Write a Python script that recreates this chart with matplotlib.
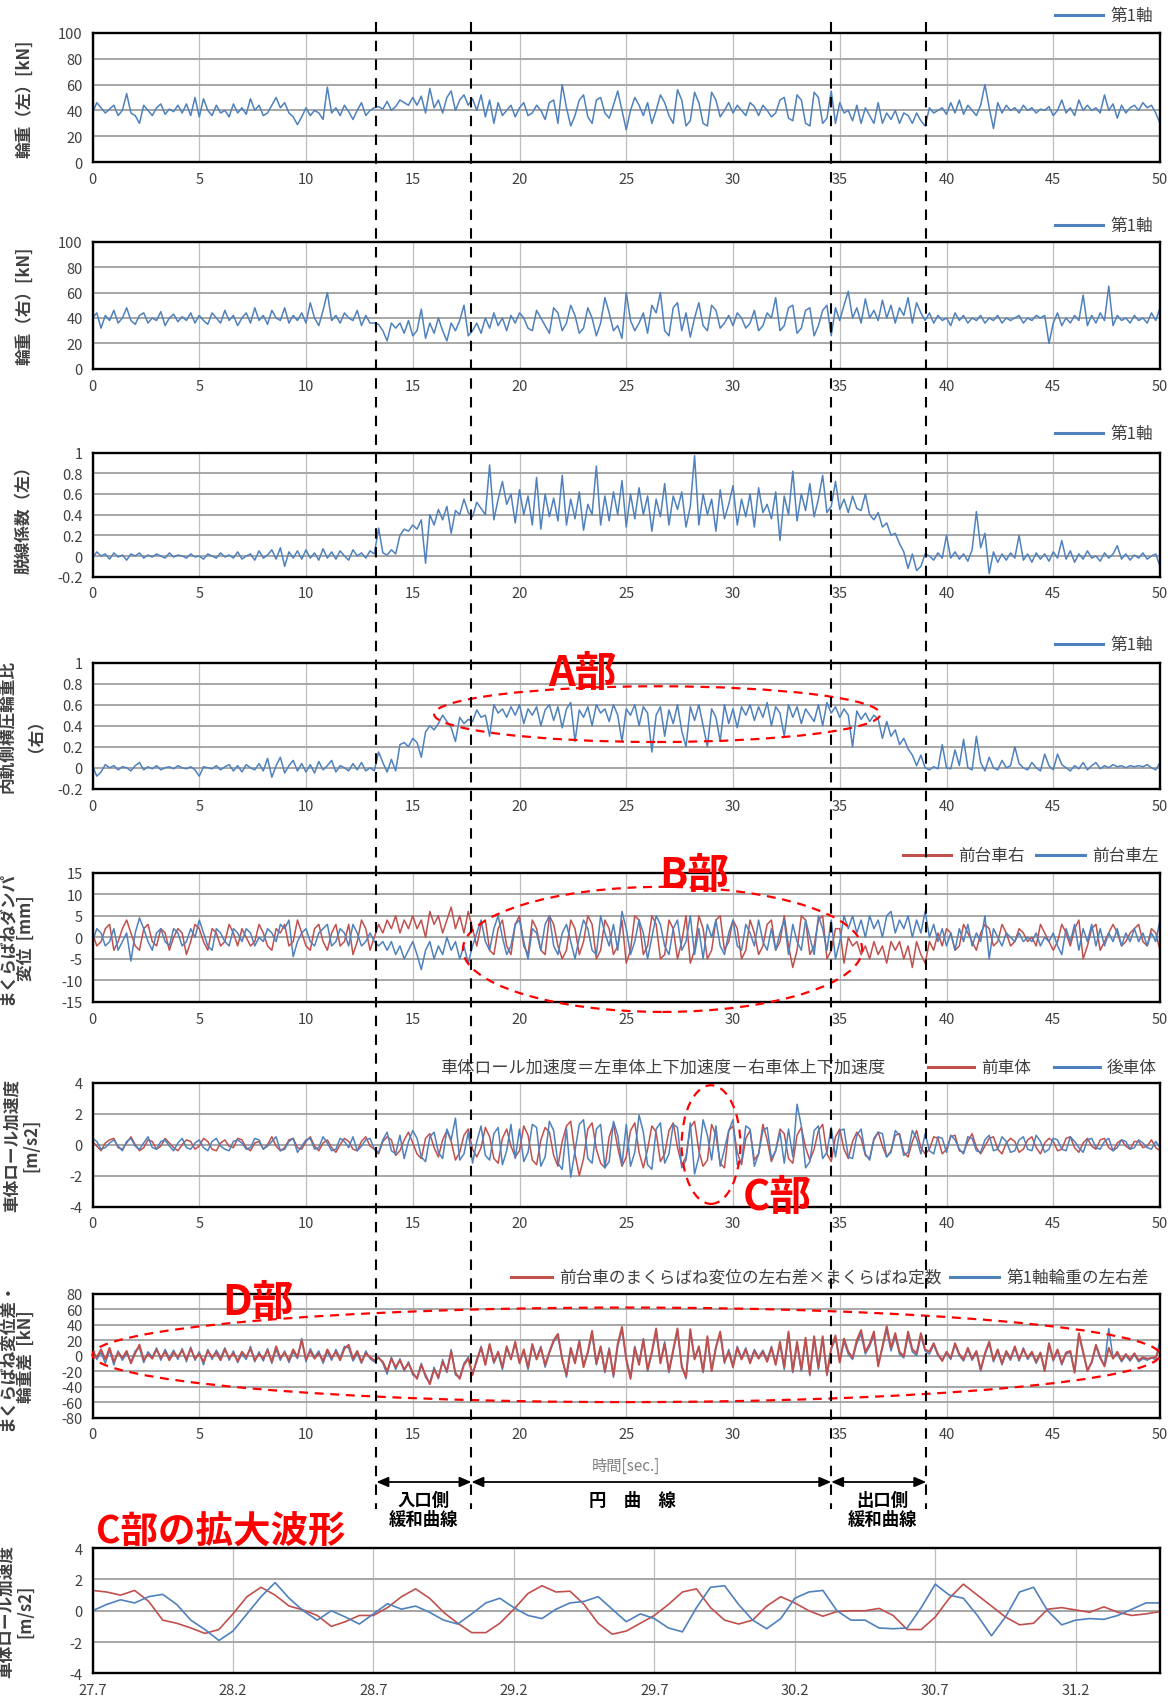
import numpy as np
import matplotlib
matplotlib.use("Agg")
import matplotlib.pyplot as plt
from matplotlib.lines import Line2D
from matplotlib.patches import Ellipse, FancyArrowPatch
from matplotlib.transforms import blended_transform_factory
from matplotlib.ticker import FuncFormatter

plt.rcParams['font.family'] = ['Noto Sans CJK JP', 'DejaVu Sans']
plt.rcParams['axes.unicode_minus'] = False

# =============================================================================
# DATA (0.2 s steps from 0 to 50 s)
# =============================================================================

# 輪重（左）[kN]
wheel_load_left = [
    38, 46, 42, 38, 41, 44, 36, 40, 53, 38, 36, 30, 44, 40, 36, 42, 45, 37, 41, 39, 44, 38, 45, 36, 50,
    35, 49, 40, 36, 44, 38, 40, 35, 45, 38, 42, 37, 49, 40, 44, 36, 38, 44, 50, 42, 46, 38, 35, 29, 35,
    42, 36, 40, 38, 33, 58, 38, 42, 36, 44, 39, 33, 40, 46, 36, 40, 42, 43, 41, 47, 40, 43, 48, 46, 44,
    50, 44, 51, 38, 57, 42, 48, 38, 50, 55, 40, 48, 52, 44, 49, 40, 52, 35, 48, 30, 46, 36, 40, 44, 35,
    42, 46, 36, 38, 44, 40, 33, 46, 48, 30, 60, 42, 28, 36, 48, 52, 35, 30, 48, 50, 38, 34, 44, 55, 40,
    25, 40, 50, 44, 36, 46, 30, 40, 52, 46, 36, 30, 56, 48, 28, 32, 54, 46, 30, 28, 54, 48, 35, 40, 46,
    38, 44, 40, 36, 46, 43, 36, 44, 40, 35, 38, 48, 50, 34, 32, 52, 48, 30, 28, 54, 50, 30, 34, 55, 30,
    46, 38, 40, 32, 44, 30, 42, 36, 30, 46, 30, 38, 33, 40, 30, 38, 36, 30, 38, 32, 28, 42, 38, 40, 42,
    37, 46, 38, 48, 37, 44, 40, 36, 44, 60, 42, 26, 46, 38, 44, 40, 42, 38, 44, 40, 42, 38, 41, 40, 43,
    36, 40, 48, 38, 42, 36, 48, 40, 44, 40, 42, 38, 52, 40, 45, 34, 44, 38, 42, 44, 40, 46, 42, 44, 38,
    30]

# 輪重（右）[kN]
wheel_load_right = [
    40, 44, 32, 42, 38, 46, 36, 40, 48, 38, 35, 42, 44, 36, 40, 38, 45, 34, 40, 43, 37, 41, 38, 44, 36,
    42, 38, 35, 44, 40, 36, 46, 38, 42, 34, 40, 44, 36, 48, 38, 42, 35, 46, 40, 38, 48, 36, 42, 38, 44,
    36, 52, 40, 34, 46, 60, 38, 42, 36, 44, 40, 38, 46, 34, 42, 36, 36, 35, 30, 22, 36, 32, 36, 28, 38,
    26, 30, 47, 24, 36, 28, 40, 30, 22, 36, 30, 38, 50, 26, 30, 36, 28, 40, 32, 44, 34, 40, 30, 42, 36,
    44, 40, 32, 30, 46, 40, 34, 28, 48, 44, 30, 36, 50, 42, 28, 32, 48, 40, 26, 36, 56, 44, 30, 34, 24,
    60, 38, 30, 36, 44, 28, 50, 44, 60, 30, 26, 48, 52, 30, 44, 25, 40, 52, 34, 30, 50, 46, 32, 36, 42,
    34, 44, 40, 32, 36, 46, 30, 34, 44, 40, 56, 30, 34, 48, 50, 28, 32, 46, 48, 26, 34, 46, 50, 26, 48,
    38, 50, 61, 40, 48, 36, 55, 40, 46, 38, 54, 40, 50, 36, 48, 42, 56, 36, 52, 44, 38, 44, 36, 42, 38,
    40, 34, 44, 38, 42, 36, 40, 38, 42, 36, 40, 38, 42, 36, 40, 38, 40, 42, 36, 40, 38, 42, 40, 42, 20,
    36, 44, 34, 40, 36, 42, 38, 58, 34, 42, 36, 44, 38, 65, 34, 42, 38, 40, 36, 42, 38, 40, 36, 44, 38,
    48]

# 脱線係数（左） x100
derail_left = [
    -2, 4, 0, 2, -3, 3, -1, 1, -4, 2, 0, 3, -2, 1, -1, 2, 0, -2, 3, -1, 1, 0, -2, 2, -1,
    0, -3, 2, 0, -2, 3, -1, 1, -2, 4, -3, 0, 2, -4, 5, -2, 1, 6, -3, 8, -10, 4, -2, 5, -3,
    6, -2, 3, -4, 7, -2, 4, -3, 5, 0, -4, 6, 0, 3, -2, 5, 2, 27, 3, 1, 6, 2, 20, 26, 24,
    30, 26, 35, -7, 40, 30, 45, 35, 48, 22, 44, 40, 55, 42, 38, 52, 46, 40, 88, 35, 55, 72, 50, 60, 32,
    64, 40, 58, 30, 76, 26, 60, 38, 56, 34, 78, 30, 55, 36, 62, 25, 50, 40, 87, 30, 58, 34, 62, 40, 73,
    28, 60, 36, 66, 40, 58, 24, 55, 38, 70, 30, 58, 45, 62, 28, 48, 97, 30, 60, 40, 55, 24, 64, 36, 50,
    68, 30, 55, 38, 60, 28, 66, 42, 50, 36, 62, 15, 58, 40, 82, 34, 60, 44, 70, 38, 55, 78, 42, 48, 72,
    45, 55, 42, 58, 46, 44, 60, 40, 35, 42, 28, 32, 20, 22, 12, 4, -12, 2, -14, -10, 2, 0, -4, 3, -2,
    20, -2, 4, -3, 2, -5, 6, 43, 8, 22, -17, 4, -6, 2, -4, 3, -2, 20, -4, 2, -6, 3, -3, 2, -5,
    4, -2, 15, -3, 5, -6, 2, -3, 5, -2, 0, -5, 3, -2, 2, 10, -3, 2, -4, 1, -2, 3, -3, 0, 2,
    -10]

# 内軌側横圧輪重比（右） x100
inner_ratio_right = [
    2, -8, -4, 3, 0, 2, -2, 1, 0, -3, 2, 5, -2, 1, -1, 2, -2, 0, 1, -1, 2, 0, -1, 1, -2,
    -8, 1, 0, -1, 2, -2, 1, 3, -3, 2, -4, 3, 0, -2, 4, -3, 9, -9, 2, 10, -5, 2, 7, -3, 4,
    -4, 3, -5, 6, -2, 2, 7, -4, 2, 0, -3, 4, -2, 5, -3, 0, -3, 15, 5, -4, 8, -3, 22, 24, 20,
    28, 24, 10, 34, 40, 36, 42, 50, 44, 38, 25, 48, 42, 46, 44, 55, 48, 50, 30, 60, 52, 56, 48, 58, 50,
    60, 42, 56, 50, 58, 40, 55, 60, 45, 58, 38, 56, 62, 25, 55, 48, 58, 40, 60, 52, 56, 44, 60, 50, 25,
    56, 50, 60, 40, 58, 52, 15, 50, 58, 30, 55, 42, 60, 35, 20, 58, 45, 60, 40, 20, 56, 48, 25, 60, 42,
    56, 38, 58, 50, 60, 45, 58, 48, 62, 40, 58, 52, 30, 60, 48, 58, 42, 56, 50, 44, 60, 40, 62, 52, 58,
    48, 56, 50, 20, 54, 46, 52, 44, 50, 46, 28, 44, 30, 36, 22, 28, 18, 12, 2, 12, 0, -2, 1, -1, 22,
    0, -1, 17, 2, 27, 0, -2, 30, 5, -3, 10, 0, -2, 7, 0, 2, 20, 4, 0, -2, 5, 0, -3, 13, 2,
    -2, 13, 3, 0, -3, 2, -1, 5, -2, 2, 5, -1, 2, 0, 3, 1, 2, 0, 2, 1, 2, 1, 3, 0, -2,
    5]

# まくらばねダンパ変位 [mm]: 前台車右 / 前台車左
damper_right = [
    1, -2, -1, 2, 3, -3, -1, 2, 4, 1, -2, -3, 2, 3, -1, -2, 2, 1, -3, 0, 2, 1, -4, -1, 3,
    2, -1, -3, 2, 1, -2, -1, 3, 1, -2, 2, 0, -2, -1, 3, 1, -2, -3, 2, 1, 3, -2, -1, 4, 1,
    -2, -3, 2, 3, -1, -3, 1, 3, -2, -1, 3, -4, -1, 4, 2, -3, 0, 3, 1, 4, 2, 5, 1, 4, 2,
    5, 2, 4, 0, 6, 3, 5, 1, 4, 7, 2, 5, 1, 6, 2, -2, 3, 4, -3, -4, 2, 4, -2, -4, 3,
    5, -2, -4, 4, 2, -3, -4, 5, 3, -2, -5, -3, 4, 2, -4, -1, 5, 3, -5, -3, 4, 2, -4, -2, 4,
    -6, -3, 5, 4, -4, -2, 5, 3, -5, -4, 4, 2, -5, -1, 5, -6, -3, 5, 2, -5, -3, 4, 5, -3, -1,
    4, 2, -5, -3, 4, 1, -4, -2, 3, 4, -3, -1, 5, -2, -7, -3, 5, 4, -4, -2, 4, 5, -5, -3, 2,
    2, -6, 0, -2, -1, -4, -2, -5, -1, -4, -2, -6, -1, -3, -1, -5, -2, -7, -1, -4, -6, -1, -3, 1, -2,
    2, 1, -3, -2, 3, 1, -1, -3, 1, 3, 2, -2, -1, 3, 1, -2, -1, 2, 1, -1, 0, -2, 3, 1, -1,
    -3, -1, 3, 1, -2, 2, 4, -5, -2, 2, 3, -3, -1, 1, 3, 1, -2, -1, 1, 2, 3, -1, -2, 2, 1,
    -3]
damper_left = [
    -1, 2, 1, -2, -1, 2, -3, -1, 1, -5.5, 1, 4.5, 2, -1, -3, 1, 2, -1, -2, 2, 1, -2, -1, 2, 0,
    4, 1, -2, -3, 2, 1, -1, -2, 2, 1, -1, 2, 1, -2, 0, -1, 2, 1, -1, 3, 2, 4, -4.5, -1, 1,
    2, -1, -2, 1, 2, 3, -2, -1, 2, 1, -2, 3, 1, -2, -1, 1, -1, -2, -1, -3, -1, -4, -2, -5, -3,
    -1, -4, -7.5, -3, -1, -5, -2, -4, 0, -3, -1, -5, -2, -6, -2, 1, 4, -1, -3, 2, 5, 0, -4, -2, 3,
    4, -1, -5, 2, 1, -3, 3, 5, -2, -4, 1, 3, -1, -5, 0, 4, 2, -3, -4, 5, 1, -2, 3, -3, 6,
    2, -4, -1, 4, 1, -5, 0, 5, 3, -2, -4, 2, 4, -3, -1, 5, -4, 2, -5, 3, 0, 4, -2, -4, 1,
    4, -2, -3, 3, 1, -2, 4, -1, -3, 2, -3, 1, 4, -4, 3, -1, -3, 4, 0, -4, 5, 2, -3, 4, -5,
    -1, 5, 2, 5, 1, 4, 0, 5, 2, 4, 0, 5, 6, 1, 4, 2, 5, 0, 4, 1, 6, 0, 3, -1, 2,
    -2, 1, -3, 2, -1, 3, -2, 1, -1, 5, -5, 2, 0, -2, 1, 0, -1, 1, -1, 0, -1, 1, -2, 0, -1,
    1, -2, -4, 2, -1, 3, -3, 2, -1, 3, -2, 2, -2, 1, -1, 2, -2, 1, -1, 2, -1, 1, -2, 1, -1,
    4]

# 車体ロール加速度 [m/s2] x10: 前車体 / 後車体
roll_front = [
    2, -1, -4, 1, 3, 4, -2, -3, 1, 5, 0, -4, -2, 3, 2, -3, -1, 4, 1, -2, -4, 0, 3, 2, -3,
    -1, 4, 2, -3, -4, 1, 3, -1, -2, 4, 3, -2, -4, 1, 2, -3, 0, 5, -1, -4, -2, 3, 4, -2, -3,
    2, 5, -1, -4, 1, 3, -2, -5, 0, 4, 2, -3, -4, 2, 5, -1, -3, -6, 2, 5, 3, -7, -4, 3, 8,
    1, -6, -9, 4, 7, -2, -8, 3, 9, 2, -10, -5, 6, 10, -3, -8, -2, 11, 5, -9, -12, 4, 10, -1, -8,
    -4, 12, 6, -10, -13, 3, 11, 8, -7, -14, 2, 12, 15, -6, -20, -9, 10, 14, -3, -12, -15, 5, 13, -2, -14,
    -8, 9, 14, -5, -15, -3, 12, 8, -11, -6, 9, 14, -2, -13, -8, 11, 15, -4, -14, -10, 13, 6, -12, -15, 9,
    12, -5, -13, 4, 9, -10, -6, 13, 3, -11, -4, 10, 7, -9, -12, 6, 11, -2, -10, -3, 9, 13, -6, -11, 5,
    10, -3, -9, 2, 8, 4, -7, -9, 3, 8, -1, -8, -4, 6, 7, -5, -8, 2, 9, -2, -6, -3, 5, 4, -6,
    -3, 5, 6, -4, -5, 2, 7, -2, -6, -1, 4, 5, -3, -6, 1, 4, 2, -5, -3, 3, 5, -2, -6, 1, 4,
    2, -4, -3, 4, 5, -2, -5, 1, 4, -1, -3, 3, 4, -2, -4, 1, 3, -1, -3, 2, 2, -2, -1, 3, -2,
    -4]
roll_rear = [
    4, 2, -3, -2, 1, 3, -1, -4, 2, 4, -1, -3, 1, 5, -2, -3, 2, 3, -1, -4, 1, 4, -2, -3, 1,
    3, -2, -4, 2, 4, -1, -3, -4, 2, 3, 1, -3, -2, 4, 3, -3, -1, 2, 5, -4, -3, 2, 4, -5, -1,
    3, 4, -3, -2, 5, 1, -4, -3, 4, 2, -2, 5, -4, -1, 3, 4, -3, -5, 3, 8, -4, -6, 6, -9, 2,
    9, 4, -8, -11, 5, 8, -5, -9, 10, 3, 17, -10, -6, 8, -12, 2, 12, -7, -10, 7, 11, -13, -4, 13, -9,
    10, -11, -5, 13, 11, -14, -8, 15, 9, -12, -16, 10, -21, -4, 13, 16, -9, -12, 10, 13, -15, -11, 15, 6, -13,
    13, -14, -5, 19, 8, -13, -16, 10, 14, -12, -6, 13, 11, -15, -10, 14, -19, -8, 16, 6, -10, 12, -14, -3, 9,
    16, -13, -11, 12, 10, -14, -6, 9, 11, -9, -4, 8, -12, 10, -8, 26, 12, -15, -11, 9, 12, -9, -5, 11, -8,
    9, 10, -8, -9, 6, 10, -6, -10, 4, 8, 7, -8, -5, 9, 6, -7, -5, 9, 4, -6, 7, -4, -6, 5, 4,
    -5, 6, 3, -3, -6, 5, 4, -4, -5, 3, 6, -4, -3, 5, 2, -5, -4, 3, 5, -3, -4, 6, 2, -5, -3,
    4, 3, -3, -4, 5, 2, -2, -5, 3, 4, -2, -3, 2, 4, -4, -2, 3, 2, -3, -2, 3, 1, -2, -3, 2,
    -2]

# まくらばね変位差・輪重差 [kN]
spring_diff = [
    5, -2, 8, -5, 10, -8, 4, -3, 6, -10, 3, 14, -6, 2, -4, 8, -3, 5, -6, 4, -2, 7, -5, 9, -4,
    2, -8, 6, -2, 4, -6, 8, -3, 3, -7, 5, -2, 9, -6, 2, -4, 7, -8, 12, -3, 4, -6, 8, -2, 20,
    -5, 6, -4, 3, -7, 8, -3, 5, -6, 9, 14, -4, 6, -8, 3, -2, -6, -3, -8, -20, -4, -15, -6, -18, -10,
    -22, -30, -12, -25, -37, -18, -28, -8, -20, 5, -22, -30, -12, -4, -25, -5, 10, -12, 15, -8, 5, -15, 12, -5, 18,
    -10, 8, -15, 15, -5, 10, -12, 5, 20, 28, -5, -25, 10, -10, 18, -15, 5, 32, -10, 12, -20, 8, -25, 15, 37,
    -5, -30, 10, -12, 20, -18, 5, 35, -10, 15, -20, 8, 35, -15, -28, 34, -5, 12, -20, 25, -20, 10, 31, -8, 5,
    -15, 10, -5, 8, -10, 6, -4, 5, -8, 10, -12, 18, -15, 31, -20, 18, -18, 23, -24, 25, -15, 25, -24, 10, 26,
    -9, 22, 5, -3, 20, 33, 5, 15, 31, -14, 12, 38, 10, 29, 5, -1, 31, 8, 3, 29, 8, 5, 16, 2, -7,
    5, -3, 16, 2, -5, 10, -4, 6, -18, 3, 18, -6, 8, -10, 6, -4, 12, -5, 8, -3, 5, -8, 4, -20, 16,
    -5, 8, -10, 4, 6, -22, 29, 5, -20, -8, 14, -2, -14, 10, -4, 5, -6, 2, -5, 3, -6, -2, -4, -3, -2,
    10]
wheel_diff = [
    8, -5, 4, -10, 7, -12, 6, -6, 3, -8, 6, 10, -9, 5, -2, 10, -6, 8, -3, 7, -5, 9, -8, 11, -6,
    5, -12, 8, -5, 7, -3, 10, -6, 6, -9, 2, -5, 12, -8, 5, -7, 9, -10, 8, -6, 6, -9, 5, -4, 22,
    -8, 9, -2, 6, -10, 5, -6, 8, -3, 12, 10, -7, 3, -10, 6, -4, -8, -2, -10, -24, -2, -18, -4, -20, -8,
    -25, -28, -10, -28, -35, -15, -30, -5, -22, 8, -25, -28, -10, -2, -22, -8, 12, -10, 13, -10, 3, -18, 10, -3, 15,
    -8, 6, -18, 12, -3, 12, -15, 3, 18, 25, -3, -28, 8, -8, 20, -12, 3, 28, -12, 10, -22, 10, -28, 12, 33,
    -3, -28, 12, -10, 22, -20, 3, 30, -8, 18, -22, 5, 32, -12, -30, 30, -3, 10, -22, 22, -18, 12, 28, -10, 8,
    -12, 12, -3, 10, -8, 8, -2, 7, -6, 12, -10, 15, -18, 28, -22, 15, -20, 20, -26, 22, -18, 22, -26, 8, 22,
    -6, 18, 2, -5, 16, 28, 2, 12, 26, -10, 10, 33, 6, 24, 2, -3, 26, 5, 0, 25, 6, 2, 14, 0, -5,
    3, -5, 14, 0, -7, 8, -6, 4, -20, 1, 16, -8, 6, -12, 4, -6, 10, -7, 10, -5, 3, -10, 2, -18, 14,
    -7, 6, -12, 2, 4, -20, 26, 3, -18, -10, 12, -4, -12, 35, -3, 2, -8, 0, -7, 1, -8, -4, -6, -3, -5,
    20]

# C部の拡大波形 (27.7-31.5 s, 0.05 s steps) [m/s2]
zoom_front = [
    1.3, 1.2, 1.0, 1.3, 0.6, -0.6, -0.8, -1.1, -1.45, -1.2, -0.2, 0.9, 1.5, 1.0, 0.3,
    0.05, -0.3, -1.0, -0.7, -0.3, -0.3, 0.2, 0.9, 1.4, 0.8, -0.1, -0.8, -1.4, -1.4, -0.8,
    0.1, 1.1, 1.6, 1.2, 1.25, 0.4, -0.8, -1.5, -1.3, -0.8, -0.3, 0.4, 1.2, 1.4, 0.2,
    -0.6, -0.85, -0.6, 0.3, 0.9, 0.5, 0.0, -0.35, -0.05, 0.0, 0.0, 0.15, -0.3, -1.2, -1.2,
    -0.4, 0.8, 1.7, 1.0, 0.3, -0.4, -0.9, -0.8, 0.1, 0.2, 0.05, -0.1, 0.25, -0.1, -0.3,
    -0.2, -0.05]
zoom_rear = [
    0.0, 0.4, 0.7, 0.5, 0.9, 1.05, 0.4, -0.6, -1.2, -1.9, -1.3, -0.2, 0.9, 1.8, 0.8,
    0.0, -0.6, 0.0, -0.4, -0.85, -0.2, 0.45, 0.1, 0.3, -0.1, -0.6, -0.85, -0.2, 0.5, 0.8,
    0.2, -0.3, -0.5, 0.1, 0.5, 0.6, 0.9, 0.1, -0.7, -0.2, -0.5, -1.1, -1.35, 0.2, 1.5,
    1.6, 0.4, -0.6, -1.15, -0.5, 0.8, 1.2, 1.3, 0.0, -0.6, -0.6, -1.1, -1.15, -1.1, 0.2,
    1.7, 1.0, 0.8, -0.3, -1.6, -0.4, 1.2, 1.5, 0.0, -0.9, -0.6, -0.5, -0.55, -0.3, 0.1,
    0.5, 0.5]

# section boundaries [s]
bounds = [13.3, 17.75, 34.6, 39.05]
sections = ['入口側\n緩和曲線', '円　曲　線', '出口側\n緩和曲線']
section_x = [15.5, 25.3, 37.0]

t = np.linspace(0, 50, len(wheel_load_left))
tz = 27.7 + 0.05 * np.arange(len(zoom_front))

BLUE = '#4F81BD'
RED = '#C0504D'
ANN = '#FF0000'
GREY = '#404040'

# =============================================================================
# FIGURE
# =============================================================================

W, H = 1176, 1706
fig = plt.figure(figsize=(W / 100, H / 100), dpi=100)


def add_axes(top, bottom, left=92.5, right=1160):
    return fig.add_axes([left / W, 1 - bottom / H, (right - left) / W, (bottom - top) / H])


def style(ax, ylim, yticks, ylabel, lab_x, xlim=(0, 50), xticks=range(0, 51, 5)):
    ax.set_xlim(*xlim)
    ax.set_ylim(*ylim)
    ax.set_xticks(list(xticks))
    ax.set_yticks(yticks)
    ax.yaxis.set_major_formatter(FuncFormatter(lambda v, p: f'{v:g}'))
    ax.grid(axis='y', color='#A6A6A6', lw=1.4)
    ax.grid(axis='x', color='#BFBFBF', lw=0.9)
    ax.set_axisbelow(True)
    for s in ax.spines.values():
        s.set_linewidth(1.7)
        s.set_color('black')
    ax.tick_params(length=0, labelsize=10.5, labelcolor=GREY, pad=7)
    ax.set_ylabel(ylabel, fontsize=12, fontweight='bold', color=GREY, linespacing=1.1)
    ax.yaxis.set_label_coords((lab_x - 92.5) / 1067.5, 0.5)


def legend_item(x0, x1, y, color, label, fs=12):
    yy = 1 - y / H
    fig.add_artist(Line2D([x0 / W, x1 / W], [yy, yy], color=color, lw=2.2,
                          transform=fig.transFigure))
    fig.text((x1 + 7) / W, yy, label, fontsize=fs, color=GREY, va='center', ha='left')


def dashed_ellipse(ax, cx, cy, w, h):
    ax.add_patch(Ellipse((cx, cy), w, h, fill=False, edgecolor=ANN, lw=1.6,
                         linestyle=(0, (4, 3)), clip_on=False, zorder=6))


def red_label(x, y, s, fs=30, ha='center'):
    fig.text(x / W, 1 - y / H, s, fontsize=fs, fontweight='bold', color=ANN,
             ha=ha, va='center', zorder=10)


# panel 1
ax1 = add_axes(33.7, 163.2)
ax1.plot(t, wheel_load_left, color=BLUE, lw=1.1)
style(ax1, (0, 100), range(0, 101, 20), '輪重（左）[kN]', 33)
legend_item(1055, 1103, 16, BLUE, '第1軸')

# panel 2
ax2 = add_axes(242.6, 369.9)
ax2.plot(t, wheel_load_right, color=BLUE, lw=1.1)
style(ax2, (0, 100), range(0, 101, 20), '輪重（右）[kN]', 33)
legend_item(1055, 1103, 226, BLUE, '第1軸')

# panel 3
ax3 = add_axes(453.6, 577.7)
ax3.plot(t, np.array(derail_left) / 100, color=BLUE, lw=1.1)
style(ax3, (-0.2, 1.0), np.arange(-0.2, 1.01, 0.2), '脱線係数（左）', 33)
legend_item(1055, 1103, 434, BLUE, '第1軸')

# panel 4
ax4 = add_axes(663.6, 789.8)
ax4.plot(t, np.array(inner_ratio_right) / 100, color=BLUE, lw=1.1)
style(ax4, (-0.2, 1.0), np.arange(-0.2, 1.01, 0.2), '内軌側横圧輪重比\n（右）', 36)
legend_item(1055, 1103, 645, BLUE, '第1軸')
dashed_ellipse(ax4, 26.45, 0.51, 20.9, 0.53)

# panel 5
ax5 = add_axes(873.6, 1003.0)
ax5.plot(t, damper_right, color=RED, lw=1.1)
ax5.plot(t, damper_left, color=BLUE, lw=1.1)
style(ax5, (-15, 15), range(-15, 16, 5), 'まくらばねダンパ\n変位  [mm]', 35)
legend_item(903, 951, 856, RED, '前台車右')
legend_item(1036, 1085, 856, BLUE, '前台車左')
dashed_ellipse(ax5, 26.7, -2.8, 18.7, 29)

# panel 6
ax6 = add_axes(1083.5, 1207.6)
ax6.plot(t, np.array(roll_front) / 10, color=RED, lw=1.1)
ax6.plot(t, np.array(roll_rear) / 10, color=BLUE, lw=1.1)
style(ax6, (-4, 4), range(-4, 5, 2), '車体ロール加速度\n[m/s2]', 40)
fig.text(440 / W, 1 - 1068 / H, '車体ロール加速度＝左車体上下加速度－右車体上下加速度',
         fontsize=12.3, color=GREY, va='center', ha='left')
legend_item(928, 974, 1068, RED, '前車体')
legend_item(1054, 1100, 1068, BLUE, '後車体')
dashed_ellipse(ax6, 28.97, 0.0, 2.75, 7.65)

# panel 7
ax7 = add_axes(1294.6, 1418.6)
ax7.plot(t, wheel_diff, color=BLUE, lw=1.1)
ax7.plot(t, spring_diff, color=RED, lw=1.4)
style(ax7, (-80, 80), range(-80, 81, 20), 'まくらばね変位差・\n輪重差  [kN]', 35)
legend_item(511, 552, 1278, RED, '前台車のまくらばね変位の左右差×まくらばね定数', fs=12)
legend_item(950, 999, 1278, BLUE, '第1軸輪重の左右差', fs=12)
dashed_ellipse(ax7, 25, 1, 50, 122)

tr7 = blended_transform_factory(ax7.transData, fig.transFigure)
fig.text(25, 1 - 1466 / H, '時間[sec.]', transform=tr7, fontsize=11, color='#808080',
         ha='center', va='center')

# section boundaries and arrows
tr = blended_transform_factory(ax1.transData, fig.transFigure)
for b in bounds:
    fig.add_artist(Line2D([b, b], [1 - 23 / H, 1 - 1510 / H], transform=tr, color='black',
                          lw=1.5, linestyle=(0, (5, 4)), zorder=8))
ya = 1 - 1483 / H
for a, b in zip(bounds[:-1], bounds[1:]):
    fig.add_artist(FancyArrowPatch((a, ya), (b, ya), transform=tr,
                                   arrowstyle='<|-|>,head_length=0.7,head_width=0.3',
                                   mutation_scale=10, color='black', lw=1.3,
                                   shrinkA=0, shrinkB=0))
for x, s in zip(section_x, sections):
    fig.text(x, 1 - 1492 / H, s, transform=tr, fontsize=12.5, fontweight='bold',
             color='black', ha='center', va='top', linespacing=1.05)

# bottom panel: C部の拡大波形
ax8 = add_axes(1549.2, 1674.3)
ax8.plot(tz, zoom_front, color=RED, lw=1.2)
ax8.plot(tz, zoom_rear, color=BLUE, lw=1.2)
style(ax8, (-4, 4), range(-4, 5, 2), '車体ロール加速度\n[m/s2]', 34,
      xlim=(27.7, 31.5), xticks=np.arange(27.7, 31.25, 0.5))
ax8.xaxis.set_major_formatter(FuncFormatter(lambda v, p: f'{v:.1f}'))

# red annotations
red_label(582, 674, 'A部')
red_label(694, 876, 'B部')
red_label(777, 1198, 'C部')
red_label(258, 1303, 'D部')
red_label(96, 1532, 'C部の拡大波形', fs=27, ha='left')

fig.savefig('out.png', dpi=100)
